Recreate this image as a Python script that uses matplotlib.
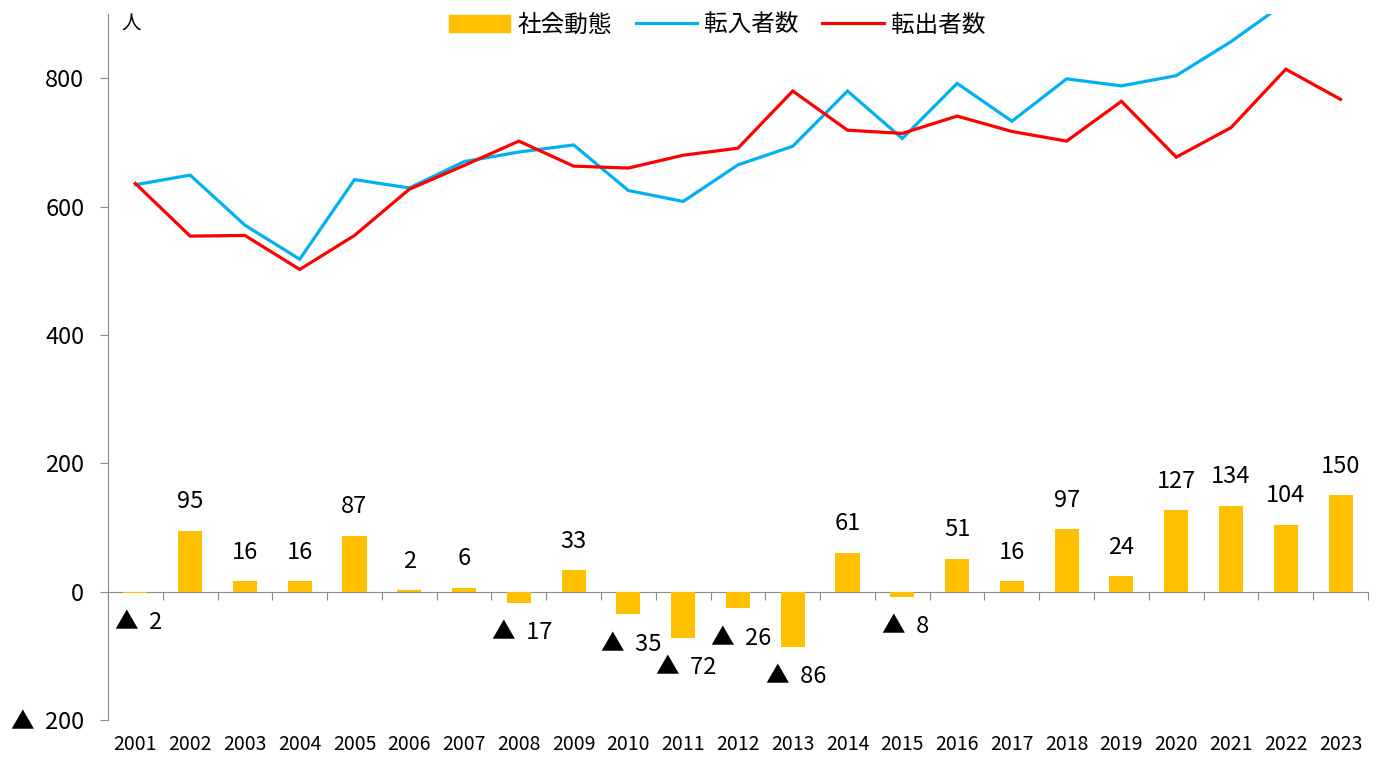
import matplotlib
matplotlib.use("Agg")
import matplotlib.pyplot as plt
import numpy as np
from matplotlib.patches import Patch
from matplotlib.lines import Line2D

plt.rcParams["font.family"] = ["Noto Sans CJK JP", "DejaVu Sans"]

years = [str(y) for y in range(2001, 2024)]
social = [-2, 95, 16, 16, 87, 2, 6, -17, 33, -35, -72, -26, -86, 61, -8, 51, 16, 97, 24, 127, 134, 104, 150]
moved_out = [636, 554, 555, 502, 555, 627, 664, 702, 663, 660, 680, 691, 780, 719, 714, 741, 717, 702, 764, 677, 723, 814, 767]
moved_in = [634, 649, 571, 518, 642, 629, 670, 685, 696, 625, 608, 665, 694, 780, 706, 792, 733, 799, 788, 804, 857, 918, 917]

BAR_C = "#FFC000"
IN_C = "#00B0F0"
OUT_C = "#FF0000"
GRAY = "#8C8C8C"


def fmt(v):
    return f"▲  {abs(int(v))}" if v < 0 else f"{int(v)}"


fig = plt.figure(figsize=(13.79, 7.58), dpi=100)
ax = fig.add_axes([0.0783, 0.0501, 0.9137, 0.9314])

x = np.arange(len(years))
ax.bar(x, social, width=0.44, color=BAR_C, zorder=2)
ax.plot(x, moved_in, color=IN_C, lw=2.3, zorder=3, solid_joinstyle="miter")
ax.plot(x, moved_out, color=OUT_C, lw=2.3, zorder=3, solid_joinstyle="miter")

for xi, v in zip(x, social):
    off = 29 if v >= 0 else -30
    dx = 0 if v >= 0 else 3
    ax.annotate(fmt(v), (xi, v), xytext=(dx, off), textcoords="offset pixels",
                ha="center", va="center", fontsize=17, color="black")

ax.set_xlim(-0.5, len(years) - 0.5)
ax.set_ylim(-200, 900)
yt = [-200, 0, 200, 400, 600, 800]
ax.set_yticks(yt)
ax.set_yticklabels([fmt(v) for v in yt], fontsize=17)
ax.tick_params(axis="y", direction="out", length=6, color=GRAY, pad=11)

ax.set_xticks(x)
ax.set_xticklabels(years, fontsize=14)
ax.tick_params(axis="x", length=0, pad=10)

for s in ["top", "right", "bottom"]:
    ax.spines[s].set_visible(False)
ax.spines["left"].set_color(GRAY)

zero_ax = ax.secondary_xaxis(0, transform=ax.transData)
zero_ax.spines["bottom"].set_color(GRAY)
zero_ax.set_xticks(np.arange(len(years) + 1) - 0.5)
zero_ax.set_xticklabels([])
zero_ax.tick_params(axis="x", direction="out", length=6, color=GRAY)

ax.text(0.011, 1.0, "人", transform=ax.transAxes, ha="left", va="top", fontsize=14)

handles = [Patch(color=BAR_C), Line2D([], [], color=IN_C, lw=2.3), Line2D([], [], color=OUT_C, lw=2.3)]
fig.legend(handles, ["社会動態", "転入者数", "転出者数"], loc="upper center",
           bbox_to_anchor=(0.52, 1.01), ncol=3, frameon=False, fontsize=17,
           handlelength=2.6, handletextpad=0.3, columnspacing=1.0)

fig.savefig("out.png", dpi=100)
